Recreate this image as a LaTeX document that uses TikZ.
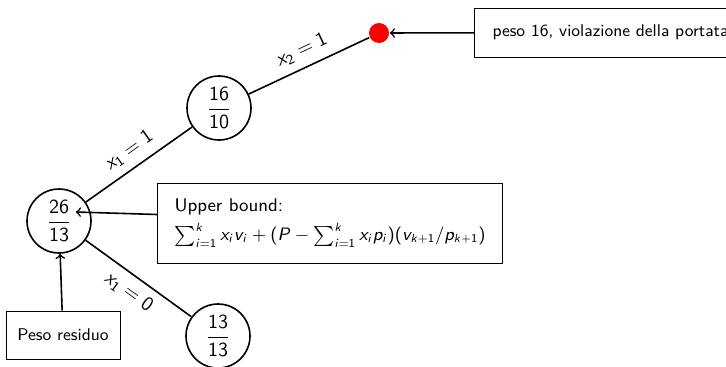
\documentclass[tikz,border=0pt]{standalone}
\usepackage{tikz}
\renewcommand{\familydefault}{\sfdefault}
\SetSymbolFont{operators}{normal}{OT1}{cmss}{m}{n}
\SetSymbolFont{letters}{normal}{OT1}{cmss}{m}{sl}
\DeclareMathSymbol{/}{\mathord}{operators}{"2F}

\begin{document}
\begin{tikzpicture}[
        x=0.5pt, y=0.5pt, line width=0.8pt,
        frac node/.style={draw, circle, minimum size=32pt, inner sep=0pt},
        note box/.style={draw, line width=0.5pt, inner ysep=0pt,
            font=\fontsize{8.5}{10}\selectfont},
        edge label/.style={sloped, inner sep=4pt}]
        \useasboundingbox (0,0) rectangle (726,366);
        \node[frac node] (root) at (59,145) {$\displaystyle\frac{26}{13}$};
        \node[frac node] (left) at (219,258) {$\displaystyle\frac{16}{10}$};
        \node[frac node] (right) at (218,30) {$\displaystyle\frac{13}{13}$};
        \node[circle, fill=red, minimum size=10pt, inner sep=0pt] (stop) at (379,333) {};
        \node[note box, anchor=west, minimum height=24.5pt, inner xsep=9pt] (viol) at (474,333.5) {peso 16, violazione della portata};
        \node[note box, minimum width=57pt, minimum height=24pt] (resid) at (63,31) {Peso residuo};
        \node[note box, anchor=west, align=left, minimum height=40pt, inner xsep=8.5pt,
            font=\fontsize{9.2}{11}\selectfont] (ub) at (157,143)
            {Upper bound:\\[3.5pt] $\sum_{i=1}^{k} x_i v_i + (P - \sum_{i=1}^{k} x_i p_i)(v_{k+1}/p_{k+1})$};
        % tree edges
        \draw (root) -- node[edge label, above] {$x_1 = 1$} (left);
        \draw (left) -- node[edge label, above] {$x_2 = 1$} (stop);
        \draw (root) -- node[edge label, below] {$x_1 = 0$} (right);
        % notes
        \draw[->] (viol) -- (stop);
        \draw[->] ([yshift=4.25pt]ub.west) -- ([shift={(-8pt,4.5pt)}]root.east);
        \draw[->] (resid) -- (root);
    \end{tikzpicture}
\end{document}
